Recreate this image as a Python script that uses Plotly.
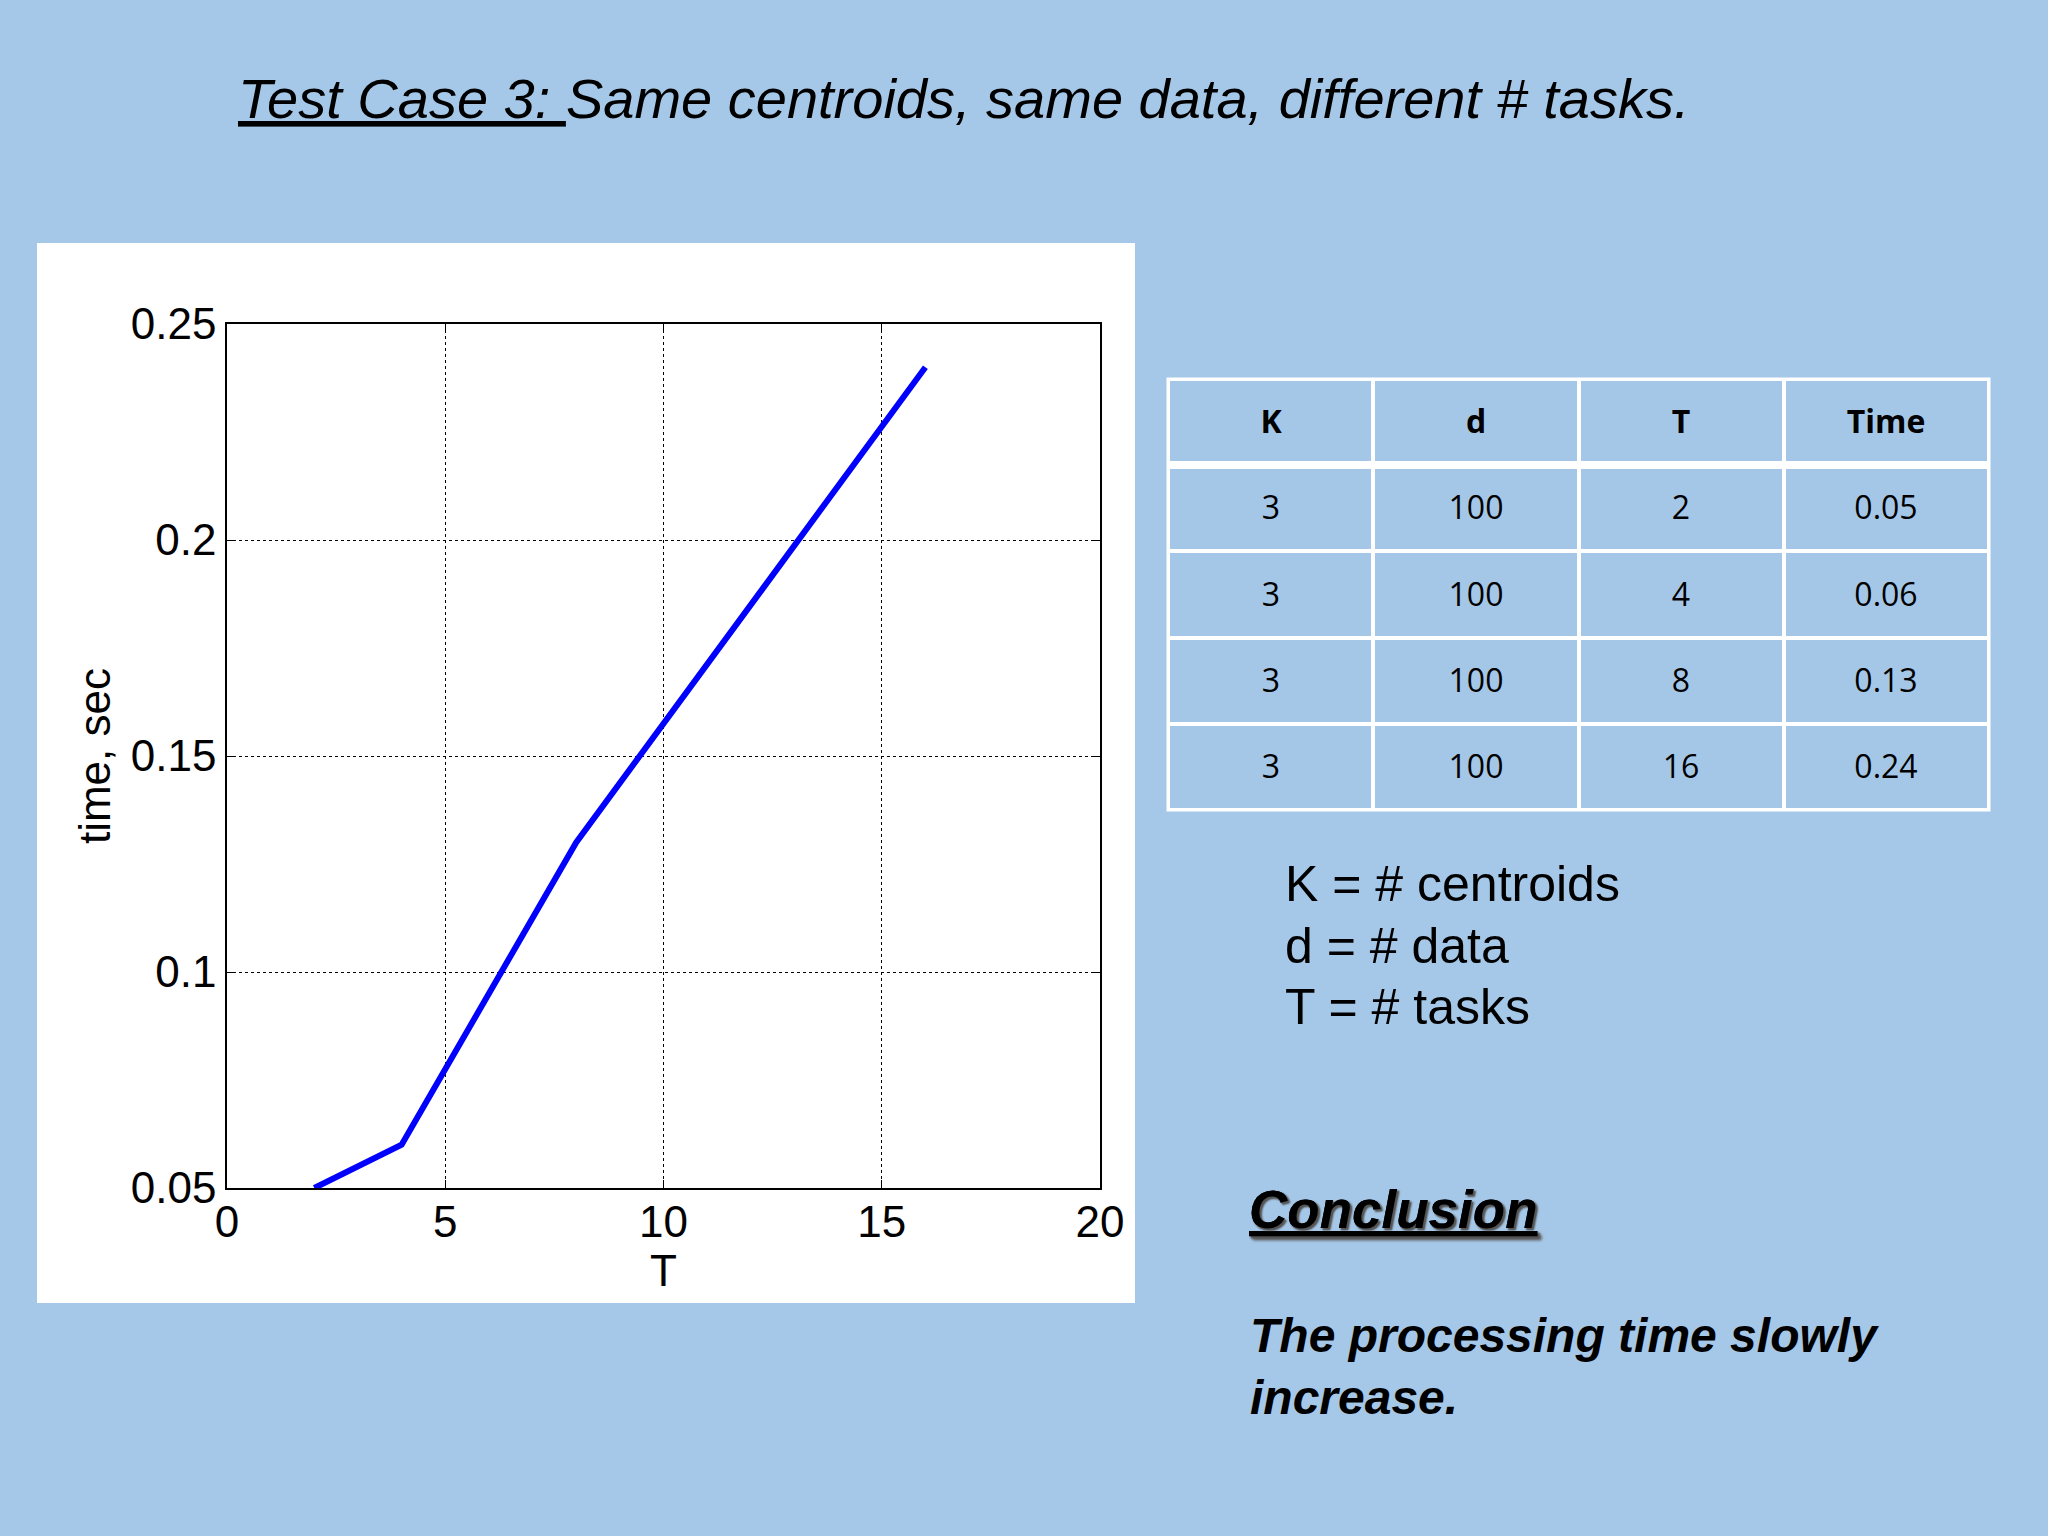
import plotly.graph_objects as go

# data shown in the slide
tasks = [2, 4, 8, 16]
times = [0.05, 0.06, 0.13, 0.24]
centroids = [3, 3, 3, 3]
data_size = [100, 100, 100, 100]
time_labels = ['0.05', '0.06', '0.13', '0.24']
table_header = ['K', 'd', 'T', 'Time']
x_ticks = [0, 5, 10, 15, 20]
y_ticks = [0.05, 0.1, 0.15, 0.2, 0.25]
y_tick_labels = ['0.05', '0.1', '0.15', '0.2', '0.25']

W, H = 2048, 1536
BG = '#a6c8e8'
CELL = '#a5c7e7'
ARIAL = 'Liberation Sans, Arial, sans-serif'
CALIBRI = 'Open Sans, Noto Sans, sans-serif'


def px(x):
    return x / W


def py(y):
    return 1 - y / H


fig = go.Figure()

fig.add_trace(go.Scatter(
    x=tasks, y=times, mode='lines',
    line=dict(color='#0000ff', width=6),
    showlegend=False, hoverinfo='skip', cliponaxis=False))

# table drawn as a heatmap so that the text sits in the middle of each cell
rows = [[f'<b>{h}</b>' for h in table_header]]
for k, d, t, tm in zip(centroids, data_size, tasks, time_labels):
    rows.append([str(k), str(d), str(t), tm])
fig.add_trace(go.Heatmap(
    z=[[0] * len(table_header) for _ in rows],
    x=list(range(len(table_header))), y=list(range(len(rows))),
    text=rows, texttemplate='%{text}',
    textfont=dict(family=CALIBRI, size=32, color='black'),
    colorscale=[[0, CELL], [1, CELL]], showscale=False,
    xgap=4, ygap=4, hoverinfo='skip',
    xaxis='x2', yaxis='y2',
))

# white backing panel of the matlab figure
fig.add_shape(type='rect', xref='paper', yref='paper',
              x0=px(37), x1=px(1135), y0=py(1303), y1=py(243),
              fillcolor='white', line_width=0, layer='below')
# table outline and thick separator under header
fig.add_shape(type='rect', xref='paper', yref='paper',
              x0=px(1168), x1=px(1989), y0=py(810), y1=py(379),
              line=dict(color='white', width=3))
fig.add_shape(type='line', xref='paper', yref='paper',
              x0=px(1168), x1=px(1989), y0=py(465), y1=py(465),
              line=dict(color='white', width=8))

axis_common = dict(
    showgrid=True, gridcolor='black', griddash='dot', gridwidth=1,
    showline=True, linecolor='black', linewidth=1.5, mirror='ticks',
    ticks='inside', ticklen=8, tickcolor='black', zeroline=False,
    automargin=False,
    tickfont=dict(family=ARIAL, size=44, color='black'),
)
fig.update_layout(
    xaxis=dict(domain=[px(227), px(1100)], range=[0, 20], tickvals=x_ticks,
               ticklabelstandoff=-6,
               title=dict(text='T', font=dict(family=ARIAL, size=44, color='black'), standoff=0),
               **axis_common),
    yaxis=dict(domain=[py(1188), py(324)], range=[0.05, 0.25], tickvals=y_ticks,
               ticktext=y_tick_labels,
               title=dict(text='time, sec', font=dict(family=ARIAL, size=44, color='black'), standoff=6),
               **axis_common),
    xaxis2=dict(domain=[px(1168), px(1989)], range=[-0.5, 3.5], visible=False,
                fixedrange=True),
    yaxis2=dict(domain=[py(810), py(379)], range=[4.5, -0.5], visible=False,
                fixedrange=True),
)

annotations = [
    dict(x=px(236), y=py(98),
         text='<u>Test Case 3: </u>Same centroids, same data, different # tasks.',
         font=dict(family=ARIAL, size=56, color='black', style='italic')),
    dict(x=px(1283), y=py(884), text='K = # centroids',
         font=dict(family=ARIAL, size=50, color='black')),
    dict(x=px(1283), y=py(946), text='d = # data',
         font=dict(family=ARIAL, size=50, color='black')),
    dict(x=px(1283), y=py(1007), text='T = # tasks',
         font=dict(family=ARIAL, size=50, color='black')),
    dict(x=px(1247), y=py(1209), text='<u>Conclusion</u>',
         font=dict(family=ARIAL, size=53, color='black', style='italic', weight='bold',
                   shadow='2px 2px 2px #555')),
    dict(x=px(1248), y=py(1366),
         text='The processing time slowly<br>increase.',
         font=dict(family=ARIAL, size=48, color='black', style='italic', weight='bold'),
         align='left'),
]
for a in annotations:
    fig.add_annotation(xref='paper', yref='paper', xanchor='left', yanchor='middle',
                       showarrow=False, **a)

fig.update_layout(
    width=W, height=H, margin=dict(l=0, r=0, t=0, b=0, autoexpand=False),
    paper_bgcolor=BG, plot_bgcolor='white',
    font=dict(family=ARIAL),
)

fig.write_html('out.html', config={'displayModeBar': False},
               post_script="document.body.style.margin='0';")
